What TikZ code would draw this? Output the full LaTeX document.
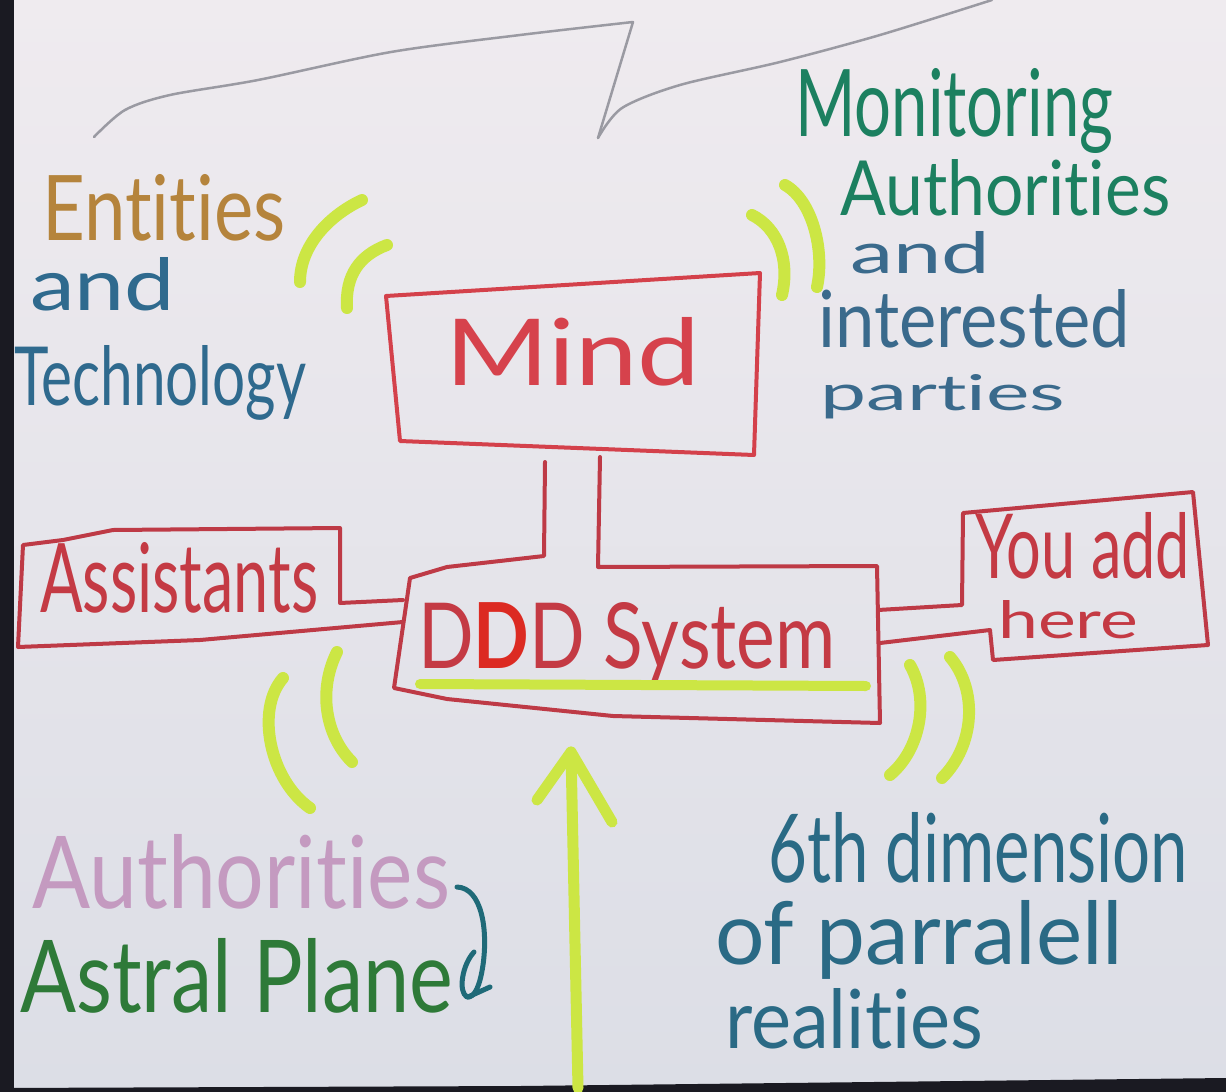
\documentclass[tikz,border=0pt]{standalone}
\usepackage{fontspec}
\setmainfont[Ligatures=NoCommon]{Lato}
\usepackage{graphicx}
\definecolor{papertop}{HTML}{EFEBEF}
\definecolor{paperbot}{HTML}{DCDEE6}
\definecolor{frame}{HTML}{1A1A22}
\definecolor{grayl}{HTML}{9A9AA2}
\definecolor{boxred}{HTML}{BE3A46}
\definecolor{mindred}{HTML}{D6424C}
\definecolor{dddred}{HTML}{C43A44}
\definecolor{dddfill}{HTML}{DC2A22}
\definecolor{limec}{HTML}{CCE644}
\definecolor{entc}{HTML}{B5843C}
\definecolor{techc}{HTML}{2F6A8E}
\definecolor{monc}{HTML}{1C8060}
\definecolor{intc}{HTML}{3A6A8C}
\definecolor{authc}{HTML}{C49AC0}
\definecolor{astc}{HTML}{2E7A38}
\definecolor{brackc}{HTML}{1F6A78}
\definecolor{dimc}{HTML}{2A6A85}
\newcommand{\hwtext}[3]{\resizebox{#1pt}{#2pt}{#3}}
\begin{document}
\begin{tikzpicture}[x=1pt,y=-1pt,
  hw/.style={inner sep=0pt, anchor=base west},
  redbox/.style={draw=boxred, line width=4pt, line join=round, line cap=round},
  limestroke/.style={draw=limec, line width=12pt, line cap=round, line join=round},
  pencil/.style={draw=grayl, line width=2.5pt, line cap=round, line join=round}]
\useasboundingbox (0,0) rectangle (1226,1092);
\shade[top color=papertop, bottom color=paperbot] (0,0) rectangle (1226,1092);
\fill[frame] (0,0) rectangle (14,1092);
\fill[frame] (0,1088) -- (520,1086) -- (1226,1078) -- (1226,1092) -- (0,1092) -- cycle;

% pencil line at top
\draw[pencil] plot[smooth] coordinates {(94,137) (125,110) (170,95) (258,80) (391,52) (520,35) (633,22)} -- (598,138);
\draw[pencil] plot[smooth] coordinates {(598,138) (622,108) (680,85) (780,62) (880,35) (992,0)};

% Mind box
\coordinate (m1) at (386,296);
\coordinate (m2) at (760,273);
\coordinate (m3) at (754,455);
\coordinate (m4) at (400,441);
\draw[redbox, draw=mindred!90!boxred] (m1) -- (m2) -- (m3) -- (m4) -- cycle;

% DDD box with links to Mind
\coordinate (ml) at (545,462);
\coordinate (mr) at (600,457);
\draw[redbox] (ml) -- (544,556) -- (447,567) -- (410,578) -- (394,688) -- (447,699)
  -- (613,716) -- (880,723) -- (877,566) -- (598,567) -- (mr);

% Assistants box
\draw[redbox] (403,600) -- (340,603) -- (340,528) -- (113,530) -- (63,540) -- (23,545)
  -- (18,647) -- (200,640) -- (403,622);

% You add here box
\draw[redbox] (878,610) -- (962,605) -- (963,513) -- (1193,492) -- (1208,645)
  -- (993,660) -- (990,630) -- (880,643);

% texts
\node[hw, text=entc] (entities) at (42,240) {\hwtext{243}{66}{Entities}};
\node[hw, text=techc] (and1) at (30,310) {\hwtext{145}{53}{and}};
\node[hw, text=techc] (tech) at (14,405) {\hwtext{292}{60}{Technology}};
\node[hw, text=monc] (monit) at (795,136) {\hwtext{318}{68}{Monitoring}};
\node[hw, text=monc] (auth1) at (840,215) {\hwtext{330}{56}{Authorities}};
\node[hw, text=intc] (and2) at (850,273) {\hwtext{140}{42}{and}};
\node[hw, text=intc] (inter) at (818,347) {\hwtext{312}{58}{interested}};
\node[hw, text=intc] (parties) at (820,410) {\hwtext{245}{36}{parties}};
\node[hw, text=mindred] (mind) at (445,385) {\hwtext{255}{68}{Mind}};
\node[hw, text=dddred] (assist) at (40,612) {\hwtext{278}{70}{Assistants}};
\node[hw, text=dddred] (ddd) at (418,668) {\hwtext{417}{66}{D{\color{dddfill}\textbf{D}}D System}};
\node[hw, text=dddred] (youadd) at (975,578) {\hwtext{215}{66}{You add}};
\node[hw, text=dddred] (here) at (998,638) {\hwtext{140}{38}{here}};
\node[hw, text=authc] (auth2) at (32,908) {\hwtext{418}{74}{Authorities}};
\node[hw, text=astc] (astral) at (20,1012) {\hwtext{433}{74}{Astral Plane}};
\node[hw, text=dimc] (dim) at (768,882) {\hwtext{420}{70}{6th dimension}};
\node[hw, text=dimc] (paral) at (715,964) {\hwtext{408}{64}{of parralell}};
\node[hw, text=dimc] (real) at (725,1048) {\hwtext{258}{60}{realities}};

% teal bracket
\draw[draw=brackc, line width=5pt, line cap=round, line join=round]
  (457,887) .. controls (482,888) and (488,930) .. (483,965)
  .. controls (480,985) and (475,998) .. (467,997)
  .. controls (458,992) and (462,965) .. (474,952);
\draw[draw=brackc, line width=5pt, line cap=round] (468,997) -- (490,987);

% lime underline of DDD System
\draw[limestroke, line width=10pt] (420,684) -- (866,686);

% lime signal arcs
\draw[limestroke] (300,282) .. controls (300,245) and (330,215) .. (362,200);
\draw[limestroke] (347,308) .. controls (345,275) and (360,255) .. (387,245);
\draw[limestroke] (752,215) .. controls (778,228) and (790,260) .. (782,295);
\draw[limestroke] (785,185) .. controls (812,200) and (825,250) .. (817,287);
\draw[limestroke] (283,678) .. controls (255,710) and (270,780) .. (310,808);
\draw[limestroke] (337,652) .. controls (318,690) and (325,735) .. (352,762);
\draw[limestroke] (910,665) .. controls (930,700) and (920,750) .. (890,775);
\draw[limestroke] (950,657) .. controls (978,690) and (975,745) .. (942,778);

% big arrow into DDD System
\coordinate (arrtail) at (578,1088);
\coordinate (arrhead) at (571,752);
\draw[limestroke, line width=11pt] (arrtail) -- (arrhead);
\draw[limestroke, line width=11pt] (537,800) -- (arrhead) -- (612,822);
\end{tikzpicture}
\end{document}
